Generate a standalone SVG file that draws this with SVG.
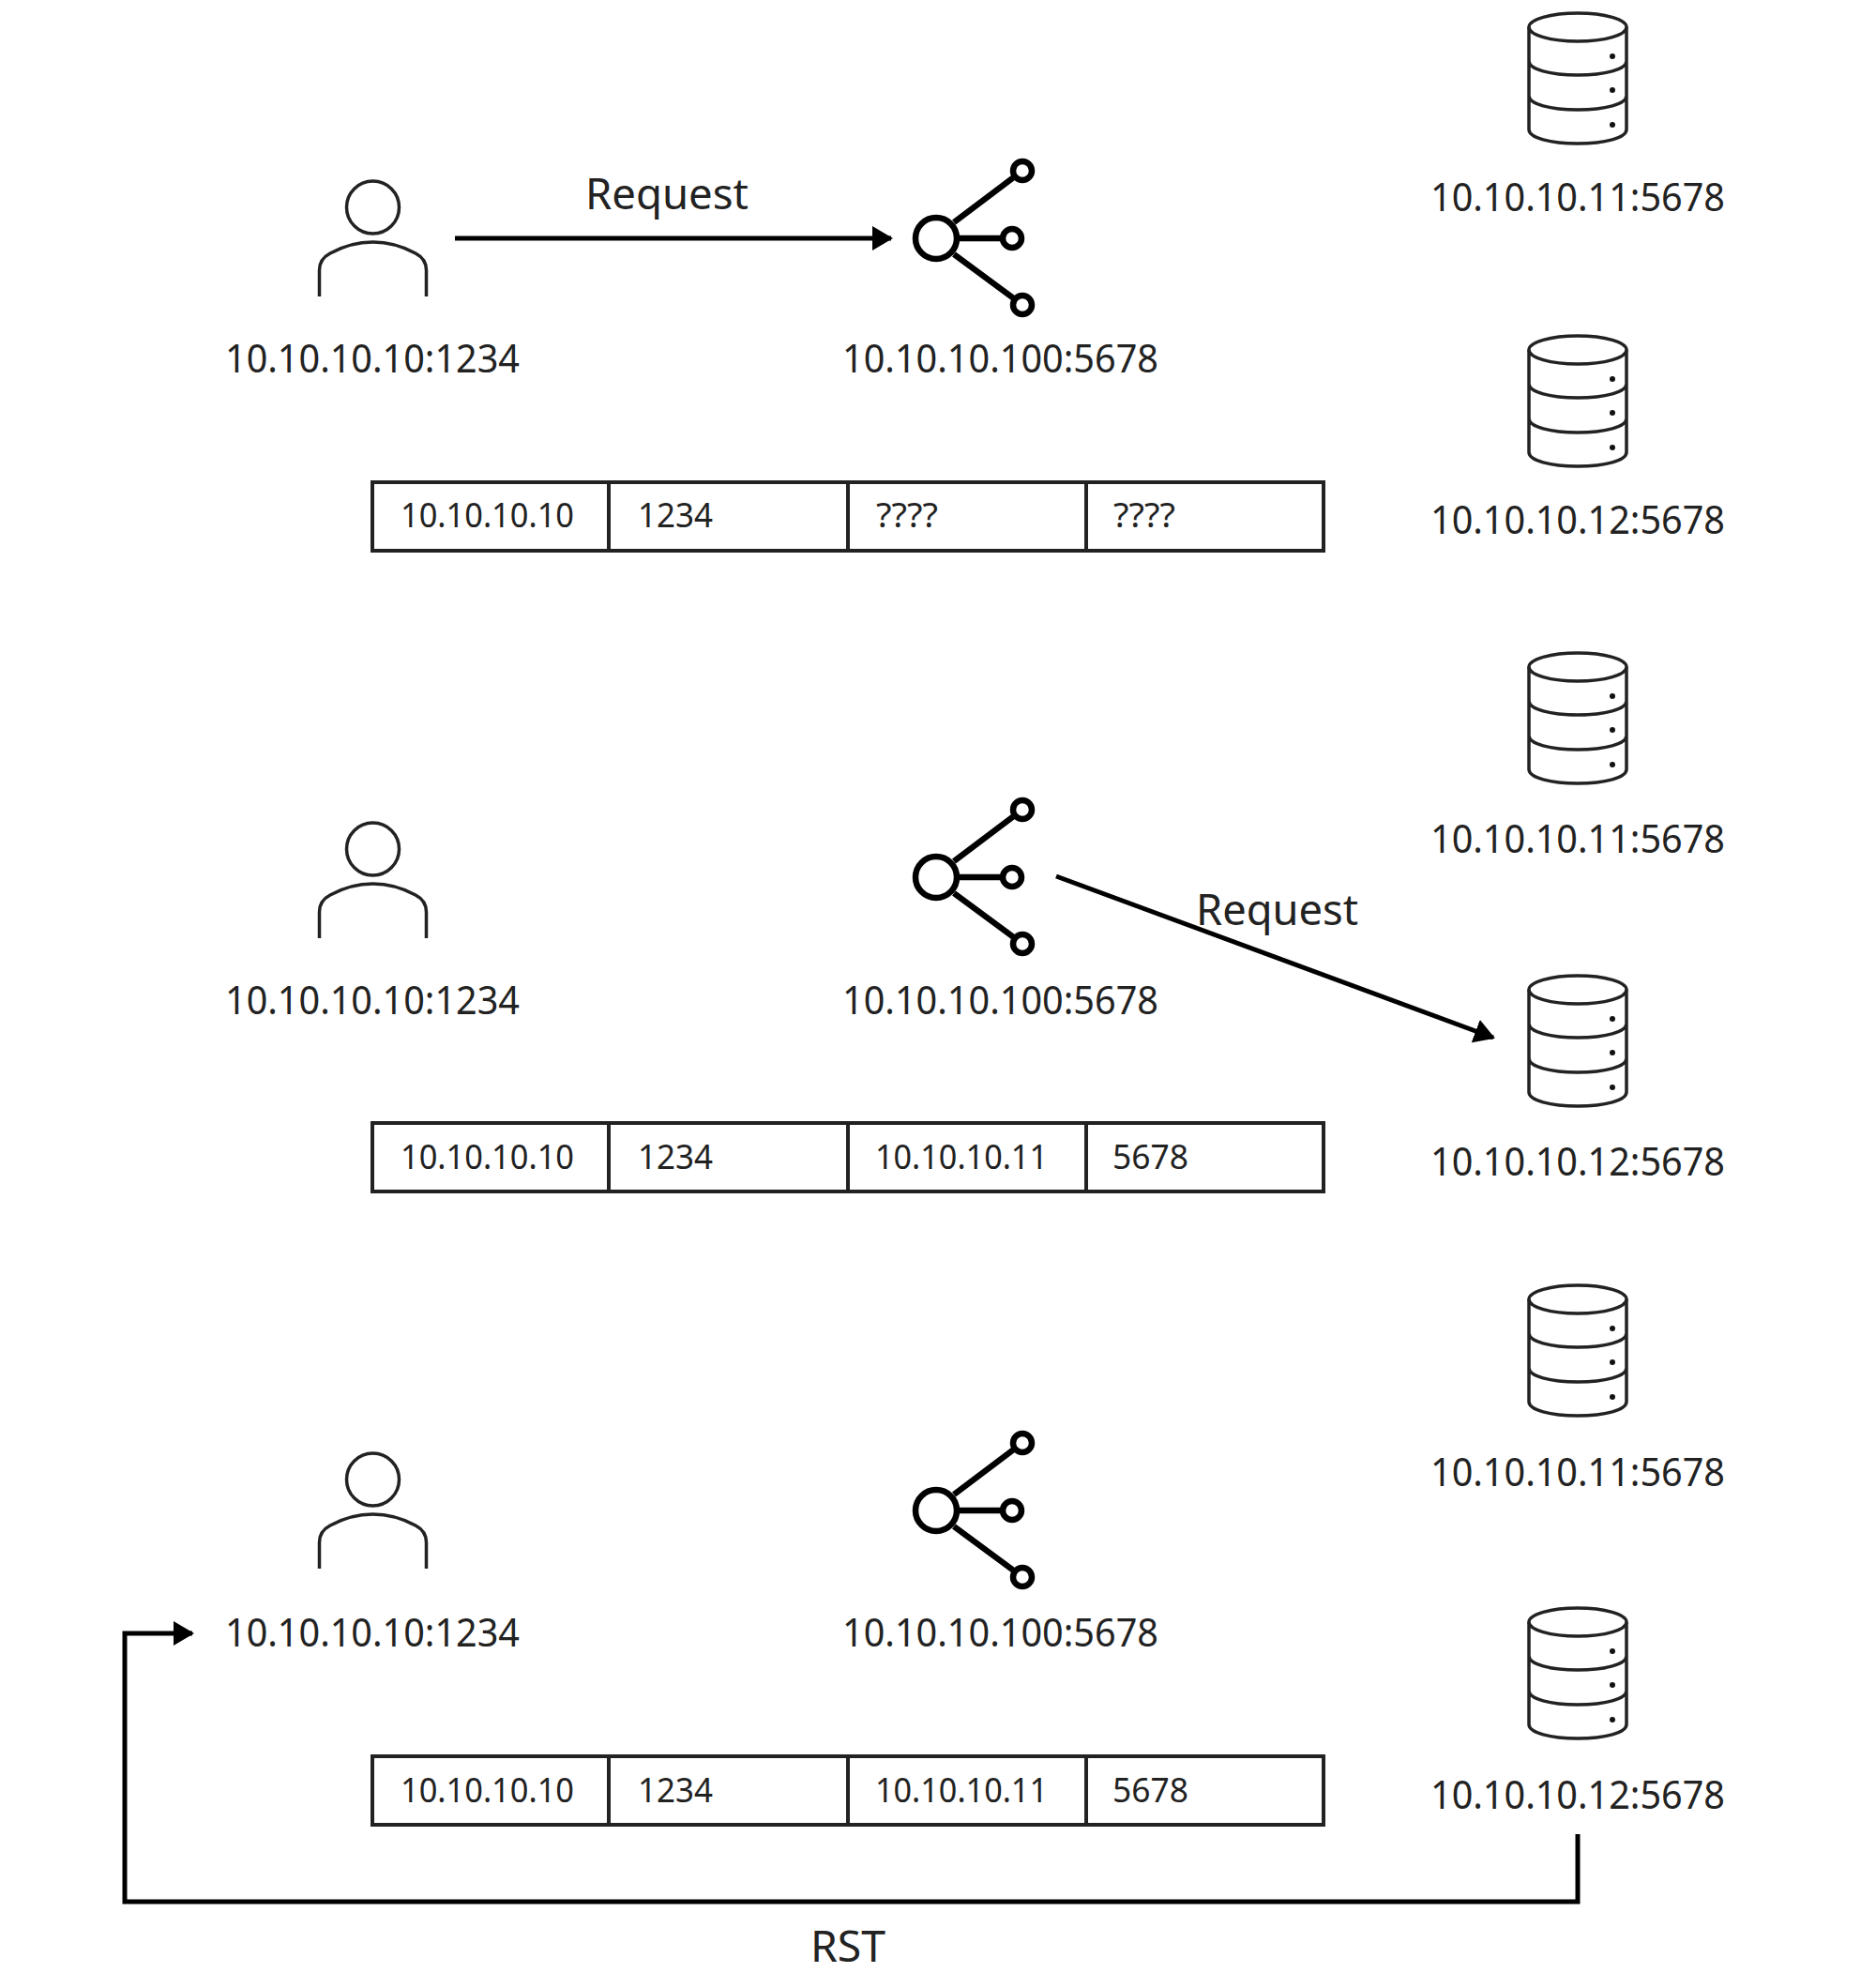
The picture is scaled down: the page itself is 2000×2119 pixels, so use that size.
<svg xmlns="http://www.w3.org/2000/svg" xmlns:xlink="http://www.w3.org/1999/xlink" width="2000" height="2119" viewBox="0 0 2000 2119">
<style>
text{font-family:"Noto Sans","Open Sans","Liberation Sans",sans-serif;fill:#222}
.l{font-size:42px}
.r{font-size:46px}
.c{font-size:36px}
.thin{fill:none;stroke:#222;stroke-width:3.500}
.hub{fill:none;stroke:#000;stroke-width:6.500}
.cell{fill:#fff;stroke:#222;stroke-width:4}
.conn{fill:none;stroke:#000;stroke-width:5}
.dot{fill:#111}
</style>
<defs>
<marker id="arrow" viewBox="0 0 22 26" refX="20" refY="13" markerWidth="22" markerHeight="26" markerUnits="userSpaceOnUse" orient="auto"><path d="M0 0L22 13L0 26Z" fill="#000"/></marker>
<g id="person"><circle class="thin" cx="397.500" cy="221" r="28"/><path class="thin" d="M340.500 316V288Q340.500 276 352 270Q374 258 397.500 258Q421 258 443 270Q454.500 276 454.500 288V316"/></g>
<g id="hubicon"><circle class="hub" cx="998" cy="254" r="22"/><circle class="hub" cx="1090" cy="182" r="10"/><circle class="hub" cx="1079" cy="254" r="10"/><circle class="hub" cx="1090" cy="325" r="10"/><path class="hub" d="M1017 237L1082 188M1020 254H1069M1017 271L1082 319"/></g>
<g id="db"><ellipse class="thin" cx="1682" cy="29" rx="52" ry="15"/><path class="thin" d="M1630 29V138C1630 147 1653 153 1682 153C1711 153 1734 147 1734 138V29M1630 65C1630 74 1653 80 1682 80C1711 80 1734 74 1734 65M1630 102C1630 111 1653 117 1682 117C1711 117 1734 111 1734 102"/><circle class="dot" cx="1719" cy="60" r="3"/><circle class="dot" cx="1719" cy="96" r="3"/><circle class="dot" cx="1719" cy="133" r="3"/></g>
<g id="cells"><rect class="cell" x="397" y="514" width="252" height="73"/><rect class="cell" x="649" y="514" width="255" height="73"/><rect class="cell" x="904" y="514" width="254" height="73"/><rect class="cell" x="1158" y="514" width="253" height="73"/></g>
</defs>

<g id="connectors">
<path class="conn" d="M485 254H950" marker-end="url(#arrow)"/>
<path class="conn" d="M1126 934L1592 1106" marker-end="url(#arrow)"/>
<path class="conn" d="M1682 1955V2027H133V1741H205" marker-end="url(#arrow)"/>
</g>
<text class="r" x="624" y="223" textLength="174" lengthAdjust="spacingAndGlyphs">Request</text>
<text class="r" x="1275" y="986" textLength="173" lengthAdjust="spacingAndGlyphs">Request</text>
<text class="r" x="864" y="2091" textLength="80" lengthAdjust="spacingAndGlyphs">RST</text>

<g id="client1"><use href="#person"/><text class="l" x="240" y="397" textLength="314" lengthAdjust="spacingAndGlyphs">10.10.10.10:1234</text></g>
<g id="lb1"><use href="#hubicon"/><text class="l" x="898" y="397" textLength="337" lengthAdjust="spacingAndGlyphs">10.10.10.100:5678</text></g>
<g id="db1a"><use href="#db"/><text class="l" x="1525" y="225" textLength="314" lengthAdjust="spacingAndGlyphs">10.10.10.11:5678</text></g>
<g id="db1b"><use href="#db" y="344"/><text class="l" x="1525" y="569" textLength="314" lengthAdjust="spacingAndGlyphs">10.10.10.12:5678</text></g>
<g id="packet1"><use href="#cells"/>
<text class="c" x="427" y="562" textLength="185" lengthAdjust="spacingAndGlyphs">10.10.10.10</text><text class="c" x="680" y="562" textLength="80" lengthAdjust="spacingAndGlyphs">1234</text><text class="c" x="934" y="562" textLength="66" lengthAdjust="spacingAndGlyphs">????</text><text class="c" x="1187" y="562" textLength="66" lengthAdjust="spacingAndGlyphs">????</text></g>

<g id="client2"><use href="#person" y="684"/><text class="l" x="240" y="1081" textLength="314" lengthAdjust="spacingAndGlyphs">10.10.10.10:1234</text></g>
<g id="lb2"><use href="#hubicon" y="681"/><text class="l" x="898" y="1081" textLength="337" lengthAdjust="spacingAndGlyphs">10.10.10.100:5678</text></g>
<g id="db2a"><use href="#db" y="682"/><text class="l" x="1525" y="909" textLength="314" lengthAdjust="spacingAndGlyphs">10.10.10.11:5678</text></g>
<g id="db2b"><use href="#db" y="1026"/><text class="l" x="1525" y="1253" textLength="314" lengthAdjust="spacingAndGlyphs">10.10.10.12:5678</text></g>
<g id="packet2"><use href="#cells" y="683"/>
<text class="c" x="427" y="1246" textLength="185" lengthAdjust="spacingAndGlyphs">10.10.10.10</text><text class="c" x="680" y="1246" textLength="80" lengthAdjust="spacingAndGlyphs">1234</text><text class="c" x="933" y="1246" textLength="184" lengthAdjust="spacingAndGlyphs">10.10.10.11</text><text class="c" x="1186" y="1246" textLength="81" lengthAdjust="spacingAndGlyphs">5678</text></g>

<g id="client3"><use href="#person" y="1356"/><text class="l" x="240" y="1755" textLength="314" lengthAdjust="spacingAndGlyphs">10.10.10.10:1234</text></g>
<g id="lb3"><use href="#hubicon" y="1356"/><text class="l" x="898" y="1755" textLength="337" lengthAdjust="spacingAndGlyphs">10.10.10.100:5678</text></g>
<g id="db3a"><use href="#db" y="1356"/><text class="l" x="1525" y="1584" textLength="314" lengthAdjust="spacingAndGlyphs">10.10.10.11:5678</text></g>
<g id="db3b"><use href="#db" y="1700"/><text class="l" x="1525" y="1928" textLength="314" lengthAdjust="spacingAndGlyphs">10.10.10.12:5678</text></g>
<g id="packet3"><use href="#cells" y="1358"/>
<text class="c" x="427" y="1921" textLength="185" lengthAdjust="spacingAndGlyphs">10.10.10.10</text><text class="c" x="680" y="1921" textLength="80" lengthAdjust="spacingAndGlyphs">1234</text><text class="c" x="933" y="1921" textLength="184" lengthAdjust="spacingAndGlyphs">10.10.10.11</text><text class="c" x="1186" y="1921" textLength="81" lengthAdjust="spacingAndGlyphs">5678</text></g>
</svg>
